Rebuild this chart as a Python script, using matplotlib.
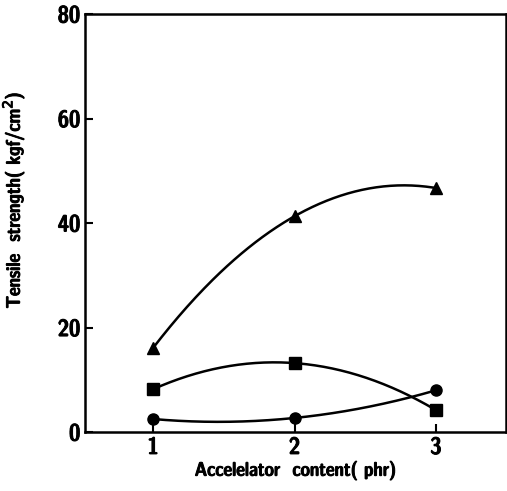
import matplotlib
matplotlib.use('Agg')
import matplotlib.pyplot as plt
from matplotlib import font_manager
import matplotlib.patheffects as pe
import numpy as np

# look for a narrow / condensed face, the scan uses a condensed grotesque
narrow = None
for f in font_manager.fontManager.ttflist:
    nm = f.name.lower()
    if ('narrow' in nm or 'condensed' in nm or f.stretch in ('condensed', 'semi-condensed')) \
            and f.style == 'normal':
        if narrow is None or f.weight in ('bold', 700, 'semibold', 600):
            narrow = f
if narrow is not None:
    fp = font_manager.FontProperties(fname=narrow.fname)
else:
    fp = font_manager.FontProperties(family='DejaVu Sans', weight='bold')
# thicken the strokes a little, the scanned lettering is heavy
heavy = [pe.withStroke(linewidth=0.7, foreground='black')]

# accelerator content (phr)
content = [1, 2, 3]
# tensile strength (kgf/cm2) per series
triangle_vals = [16.1, 41.3, 46.7]
square_vals = [8.2, 13.2, 4.2]
circle_vals = [2.5, 2.7, 8.0]

x_ticks = [1, 2, 3]
y_ticks = [0, 20, 40, 60, 80]

fig = plt.figure(figsize=(5.07, 4.91), dpi=100)
ax = fig.add_axes([0.168, 0.120, 0.830, 0.8515])

xs = np.linspace(1, 3, 200)
for vals, mk in zip([triangle_vals, square_vals, circle_vals], ['^', 's', 'o']):
    # smooth curve through the three points
    coef = np.polyfit(content, vals, 2)
    ax.plot(xs, np.polyval(coef, xs), color='black', lw=1.8)
    ax.plot(content, vals, linestyle='none', marker=mk, color='black',
            markersize=8 if mk != '^' else 9)

ax.set_xlim(0.52, 3.495)
ax.set_ylim(0, 80)
ax.set_xticks(x_ticks)
ax.set_yticks(y_ticks)
ax.tick_params(direction='in', length=6, width=1.5)
for lab in ax.get_xticklabels() + ax.get_yticklabels():
    lab.set_fontproperties(fp)
    lab.set_fontsize(17)
    lab.set_path_effects(heavy)
for sp in ax.spines.values():
    sp.set_linewidth(1.8)

ax.set_xlabel('Accelelator  content( phr)', fontproperties=fp, fontsize=14, labelpad=2,
              path_effects=heavy)
ax.set_ylabel('Tensile  strength( kgf/cm$^2$)', fontproperties=fp, fontsize=14,
              path_effects=heavy)
ax.yaxis.set_label_coords(-0.138, 0.555)

fig.savefig('out.png', dpi=100)
